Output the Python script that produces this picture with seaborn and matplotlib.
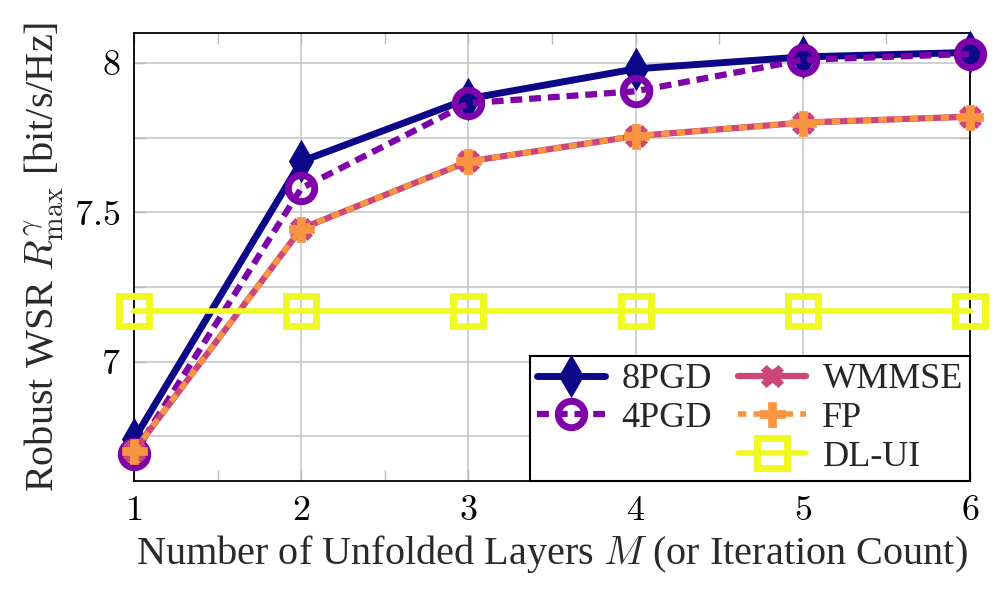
import numpy as np
import matplotlib
matplotlib.use("Agg")
import matplotlib.pyplot as plt
import seaborn as sns
from matplotlib.lines import Line2D
from matplotlib.ticker import MultipleLocator

# data
layers = [1, 2, 3, 4, 5, 6]
pgd8 = [6.74, 7.67, 7.88, 7.98, 8.02, 8.035]
pgd4 = [6.69, 7.58, 7.865, 7.905, 8.01, 8.03]
wmmse = [6.70, 7.445, 7.67, 7.755, 7.80, 7.82]
fp = [6.70, 7.445, 7.67, 7.755, 7.80, 7.82]
dlui = [7.17, 7.17, 7.17, 7.17, 7.17, 7.17]

names = ["8PGD", "4PGD", "WMMSE", "FP", "DL-UI"]

sns.set_style("ticks")
plt.rcParams["font.family"] = ["Liberation Serif", "DejaVu Serif"]
plt.rcParams["mathtext.fontset"] = "cm"

cols = plt.get_cmap("plasma")(np.linspace(0, 1, 5))

fig = plt.figure(figsize=(9.97, 5.96), dpi=100)
ax = fig.add_axes([0.1344, 0.193, 0.8386, 0.7516])

# style for each series
styles = [
    dict(lw=5, marker="d", ms=19, mew=2, mfc=cols[0], dash=None),
    dict(lw=4.5, marker="o", ms=19, mew=5, mfc="none", dash=(1.9, 1.1)),
    dict(lw=4.5, marker="X", ms=16, mew=0.5, mfc=cols[2], dash=None),
    dict(lw=4.0, marker="P", ms=18, mew=0.5, mfc=cols[3], dash=(1.5, 1.3)),
    dict(lw=4.0, marker="s", ms=21, mew=5, mfc="none", dash=None),
]

handles = []
for vals, name, c, st in zip([pgd8, pgd4, wmmse, fp, dlui], names, cols, styles):
    sns.lineplot(x=layers, y=vals, ax=ax, color=c, lw=st["lw"],
                 marker=st["marker"], markersize=st["ms"], markeredgewidth=st["mew"],
                 markerfacecolor=st["mfc"], markeredgecolor=c, clip_on=False,
                 zorder=3)
    line = ax.lines[-1]
    if st["dash"] is not None:
        line.set_dashes(st["dash"])
    h = Line2D([], [], color=c, lw=st["lw"], marker=st["marker"],
               markersize=st["ms"], markeredgewidth=st["mew"],
               markerfacecolor=st["mfc"], markeredgecolor=c)
    if st["dash"] is not None:
        h.set_dashes(st["dash"])
    handles.append(h)

ax.set_xlim(1, 6)
ax.set_ylim(6.6, 8.1)
ax.xaxis.set_major_locator(MultipleLocator(1))
ax.xaxis.set_minor_locator(MultipleLocator(0.5))
ax.yaxis.set_major_locator(MultipleLocator(0.5))
ax.yaxis.set_minor_locator(MultipleLocator(0.25))
ax.set_xticks(layers)
ax.set_xticklabels([f"${t}$" for t in layers])
yt = [7, 7.5, 8]
ax.set_yticks(yt)
ax.set_yticklabels([f"${t:g}$" for t in yt])

ax.grid(True, which="major", axis="x", color="#c8c8c8", lw=1.2)
ax.grid(True, which="both", axis="y", color="#c8c8c8", lw=1.2)
ax.set_axisbelow(True)
ax.tick_params(which="both", direction="in", top=True, right=True,
               labelsize=26, width=1, length=8, pad=10,
               colors="#bbbbbb", labelcolor="black")
for sp in ax.spines.values():
    sp.set_color("black")
    sp.set_linewidth(1.3)

ax.set_xlabel(r"Number of Unfolded Layers $M$ (or Iteration Count)",
              fontsize=29, color="#2a2a2a", labelpad=4)
ax.set_ylabel(r"Robust WSR $R^{\gamma}_{\max}$ [bit/s/Hz]",
              fontsize=29, color="#2a2a2a", labelpad=6)

blank = Line2D([], [], color="none")
leg = ax.legend([handles[0], handles[1], blank, handles[2], handles[3], handles[4]],
                ["8PGD", "4PGD", "", "WMMSE", "FP", "DL-UI"],
                ncol=2, loc="lower right", fontsize=26, frameon=True,
                fancybox=False, framealpha=1, edgecolor="black",
                handlelength=1.9, handletextpad=0.45, columnspacing=0.7,
                labelspacing=0.15, borderpad=0.2, borderaxespad=0.0)
leg.get_frame().set_linewidth(1.5)
leg.set_zorder(5)

fig.savefig("out.png", dpi=100)
